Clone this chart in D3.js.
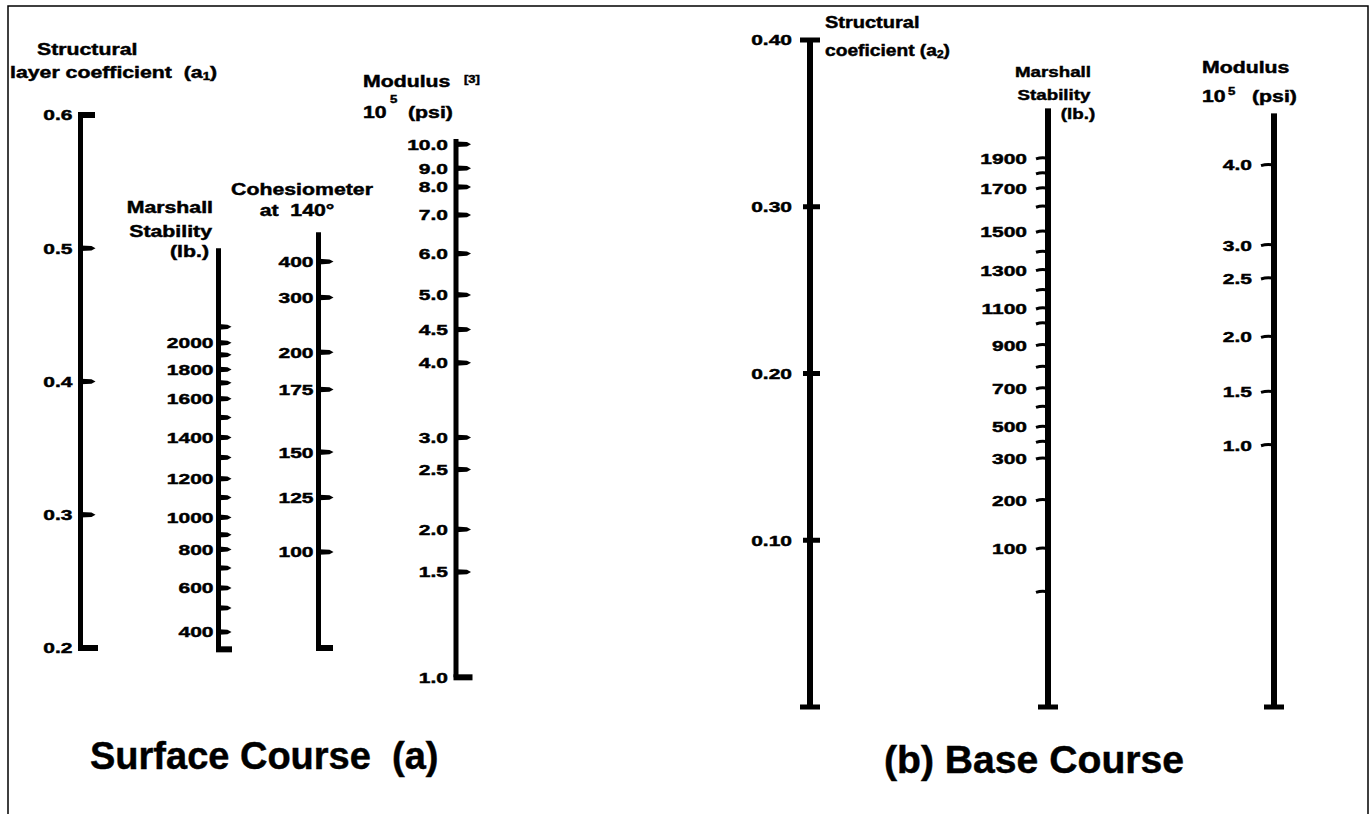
<!DOCTYPE html>
<html>
<head>
<meta charset="utf-8">
<script src="https://cdn.jsdelivr.net/npm/d3@7"></script>
<style>
body { margin: 0; background: #fff; }
text { font-family: "Liberation Sans", Arial, sans-serif; font-weight: bold; fill: #000; stroke: #000; stroke-width: 0.45px; white-space: pre; }
</style>
</head>
<body>
<svg id="chart" width="1372" height="814"></svg>
<script>
// ---- surface course (a) ----
var a1Values = [0.6, 0.5, 0.4, 0.3, 0.2];
var a1Labels = ["0.6", "0.5", "0.4", "0.3", "0.2"];

// each scale value is paired with the layer coefficient it lines up with
var surfMarshallValues = [2100, 2000, 1900, 1800, 1700, 1600, 1500, 1400, 1300, 1200, 1100, 1000, 900, 800, 700, 600, 500, 400, 300];
var surfMarshallCoef = [0.441, 0.429, 0.420, 0.409, 0.399, 0.387, 0.373, 0.358, 0.343, 0.327, 0.313, 0.298, 0.285, 0.274, 0.260, 0.245, 0.230, 0.212, 0.199];
var surfMarshallLabels = ["", "2000", "", "1800", "", "1600", "", "1400", "", "1200", "", "1000", "", "800", "", "600", "", "400", ""];
var surfMarshallRange = [0.500, 0.199];

var cohesValues = [400, 300, 200, 175, 150, 125, 100];
var cohesCoef = [0.490, 0.463, 0.422, 0.394, 0.347, 0.313, 0.272];
var cohesRange = [0.512, 0.200];

var surfModValues = [10.0, 9.0, 8.0, 7.0, 6.0, 5.0, 4.5, 4.0, 3.0, 2.5, 2.0, 1.5, 1.0];
var surfModCoef = [0.578, 0.560, 0.546, 0.525, 0.496, 0.465, 0.439, 0.414, 0.358, 0.334, 0.289, 0.257, 0.178];
var surfModRange = [0.582, 0.178];

// ---- base course (b) ----
var a2Values = [0.40, 0.30, 0.20, 0.10, 0.00];
var a2Labels = ["0.40", "0.30", "0.20", "0.10", ""];

var baseMarshallValues = [1900, 1800, 1700, 1600, 1500, 1400, 1300, 1200, 1100, 1000, 900, 800, 700, 600, 500, 400, 300, 200, 100, 0];
var baseMarshallCoef = [0.329, 0.320, 0.311, 0.300, 0.285, 0.273, 0.262, 0.250, 0.239, 0.230, 0.217, 0.204, 0.191, 0.180, 0.168, 0.159, 0.149, 0.124, 0.095, 0.069];
var baseMarshallLabels = ["1900", "", "1700", "", "1500", "", "1300", "", "1100", "", "900", "", "700", "", "500", "", "300", "200", "100", ""];
var baseMarshallRange = [0.359, 0.0];

var baseModValues = [4.0, 3.0, 2.5, 2.0, 1.5, 1.0];
var baseModCoef = [0.325, 0.277, 0.257, 0.222, 0.189, 0.157];
var baseModRange = [0.356, 0.0];

var svg = d3.select("#chart");

// frame
svg.append("path")
	.attr("d", "M8,830V6H1368V830")
	.attr("fill", "none")
	.attr("stroke", "#000")
	.attr("stroke-width", 1.5);

var ySurf = d3.scaleLinear().domain([0.2, 0.6]).range([648, 115]);
var yBase = d3.scaleLinear().domain([0, 0.4]).range([707, 40]);

function txt(g, x, y, str, size, anchor, sx){
	return g.append("text")
		.attr("transform", "translate(" + x + "," + y + ") scale(" + (sx || 1) + ",1)")
		.attr("text-anchor", anchor || "start")
		.style("font-size", size + "px")
		.text(str);
}

function fmt1(d){ return d3.format(".1f")(d); }

// draws one nomograph scale; pos maps a value to a page y
function drawScale(g, o){
	var pos = o.pos;
	var x = o.x;
	var w = o.lineWidth || 5;

	g.append("rect")
		.attr("x", x - w / 2)
		.attr("y", o.panelY(o.range[0]))
		.attr("width", w)
		.attr("height", o.panelY(o.range[1]) - o.panelY(o.range[0]));

	var ticks = g.selectAll(null)
		.data(o.values.map(function(v, i){ return {v: v, label: o.labels[i]}; }))
		.enter().append("g")
		.attr("transform", function(d){ return "translate(" + x + "," + pos(d.v) + ")"; });

	if(o.tick == "flag"){
		ticks.filter(function(d){ return o.skip.indexOf(d.v) < 0; })
			.append("path")
			.attr("d", "M0,-2.8L" + (o.len - 4) + ",-2.2L" + o.len + ",0L" + (o.len - 4) + ",2.2L0,2.8Z");
	} else if(o.tick == "hook"){
		ticks.filter(function(d){ return o.skip.indexOf(d.v) < 0; })
			.append("path")
			.attr("d", "M0,0Q" + (-o.len / 2) + ",-1.5 " + (-o.len) + ",0.5")
			.attr("fill", "none")
			.attr("stroke", "#000")
			.attr("stroke-width", 3);
	} else if(o.tick == "bar"){
		ticks.filter(function(d){ return o.skip.indexOf(d.v) < 0; })
			.append("rect")
			.attr("x", -7).attr("y", -2.5)
			.attr("width", 17).attr("height", 5);
	}

	ticks.append("text")
		.attr("transform", "translate(" + (-o.labelGap) + ",0) scale(1.4,1)")
		.attr("dy", "0.36em")
		.attr("text-anchor", "end")
		.style("font-size", "15px")
		.text(function(d){ return d.label; });

	(o.caps || []).forEach(function(c){
		var cy = o.panelY(c.at);
		if(c.type == "right"){
			g.append("rect").attr("x", x - w / 2).attr("y", cy - 3).attr("width", c.len).attr("height", 6);
		} else {
			g.append("rect").attr("x", x - 10).attr("y", cy - 2.5).attr("width", 20).attr("height", 5);
		}
	});
}

function coefScale(values, coefs, panelY){
	var s = d3.scaleLinear().domain(values).range(coefs);
	return function(v){ return panelY(s(v)); };
}

var gs = svg.append("g");
var gb = svg.append("g");

// surface: layer coefficient a1
drawScale(gs, {
	x: 80.5, panelY: ySurf, pos: ySurf, range: [0.6, 0.2],
	values: a1Values, labels: a1Labels, tick: "flag", len: 15, skip: [0.6, 0.2], labelGap: 8,
	caps: [{at: 0.6, type: "right", len: 17}, {at: 0.2, type: "right", len: 20}]
});

drawScale(gs, {
	x: 218.5, panelY: ySurf, pos: coefScale(surfMarshallValues, surfMarshallCoef, ySurf), range: surfMarshallRange,
	values: surfMarshallValues, labels: surfMarshallLabels, tick: "flag", len: 13, skip: [300], labelGap: 5,
	caps: [{at: surfMarshallRange[1], type: "right", len: 16}]
});

drawScale(gs, {
	x: 318.5, panelY: ySurf, pos: coefScale(cohesValues, cohesCoef, ySurf), range: cohesRange,
	values: cohesValues, labels: cohesValues.map(String), tick: "flag", len: 15, skip: [], labelGap: 5,
	caps: [{at: cohesRange[1], type: "right", len: 17}]
});

drawScale(gs, {
	x: 456, panelY: ySurf, pos: coefScale(surfModValues, surfModCoef, ySurf), range: surfModRange,
	values: surfModValues, labels: surfModValues.map(fmt1), tick: "flag", len: 15, skip: [1.0], labelGap: 8,
	caps: [{at: surfModRange[1], type: "right", len: 19}]
});

// base: a2, Marshall, modulus
drawScale(gb, {
	x: 810, panelY: yBase, pos: yBase, range: [0.4, 0.0], lineWidth: 6,
	values: a2Values, labels: a2Labels, tick: "bar", skip: [0.40, 0.00], labelGap: 18,
	caps: [{at: 0.4, type: "tee"}, {at: 0.0, type: "tee"}]
});

drawScale(gb, {
	x: 1048, panelY: yBase, pos: coefScale(baseMarshallValues, baseMarshallCoef, yBase), range: baseMarshallRange, lineWidth: 6,
	values: baseMarshallValues, labels: baseMarshallLabels, tick: "hook", len: 12, skip: [], labelGap: 21,
	caps: [{at: 0.0, type: "tee"}]
});

drawScale(gb, {
	x: 1274, panelY: yBase, pos: coefScale(baseModValues, baseModCoef, yBase), range: baseModRange, lineWidth: 6,
	values: baseModValues, labels: baseModValues.map(fmt1), tick: "hook", len: 13, skip: [], labelGap: 22,
	caps: [{at: 0.0, type: "tee"}]
});

// ---- scale titles ----
txt(gs, 37, 55, "Structural", 16, "start", 1.33);
var t = txt(gs, 10, 78, "layer coefficient  (a", 16, "start", 1.33);
t.append("tspan").attr("dy", 2).style("font-size", "10px").text("1");
t.append("tspan").attr("dy", -2).text(")");

txt(gs, 213, 213, "Marshall", 16, "end", 1.33);
txt(gs, 212, 237, "Stability", 16, "end", 1.33);
txt(gs, 209, 257, "(lb.)", 16, "end", 1.33);

txt(gs, 302, 195, "Cohesiometer", 16, "middle", 1.33);
txt(gs, 297, 216, "at  140\u00b0", 16, "middle", 1.33);

txt(gs, 363, 87, "Modulus", 16, "start", 1.33);
txt(gs, 464, 83, "[3]", 10, "start", 1.3);
txt(gs, 363, 118, "10", 16, "start", 1.33);
txt(gs, 390, 103, "5", 11, "start", 1.2);
txt(gs, 408, 118, "(psi)", 16, "start", 1.33);

txt(gb, 825, 28, "Structural", 16, "start", 1.25);
t = txt(gb, 825, 56, "coeficient (a", 16, "start", 1.2);
t.append("tspan").attr("dy", 2).style("font-size", "10px").text("2");
t.append("tspan").attr("dy", -2).text(")");

txt(gb, 1053, 77, "Marshall", 15, "middle", 1.25);
txt(gb, 1054, 100, "Stability", 15, "middle", 1.25);
txt(gb, 1078, 119, "(lb.)", 15, "middle", 1.25);

txt(gb, 1202, 73, "Modulus", 16, "start", 1.33);
txt(gb, 1202, 102, "10", 16, "start", 1.33);
txt(gb, 1228, 95, "5", 11, "start", 1.2);
txt(gb, 1252, 102, "(psi)", 16, "start", 1.33);

// ---- panel titles ----
txt(svg, 90, 769, "Surface Course  (a)", 38, "start", 1);
txt(svg, 884, 773, "(b) Base Course", 38, "start", 1.03);
</script>
</body>
</html>
